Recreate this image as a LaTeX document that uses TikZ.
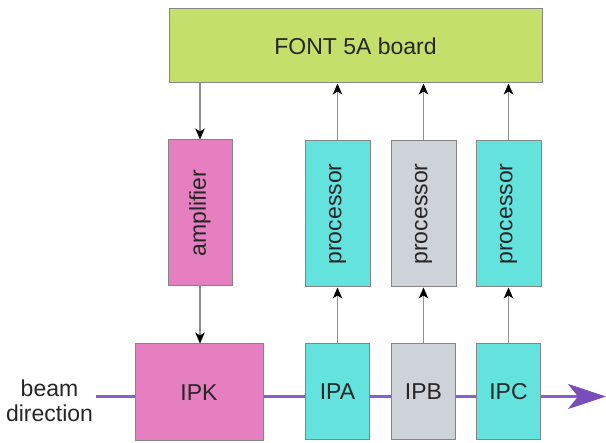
\documentclass[tikz,border=0pt]{standalone}
\usepackage{fontspec}
\setmainfont{Liberation Sans}
\usetikzlibrary{arrows.meta,backgrounds}
\definecolor{boardgreen}{HTML}{C5E06A}
\definecolor{amppink}{HTML}{E67FBF}
\definecolor{proccyan}{HTML}{63E2DE}
\definecolor{procgray}{HTML}{CED3D9}
\definecolor{beampurple}{HTML}{8A5FCB}
\definecolor{beamhead}{HTML}{7B4DB8}
\definecolor{boxline}{HTML}{858585}
\definecolor{wire}{HTML}{8F8F8F}
\tikzset{
  box/.style={draw=boxline, line width=1pt, rectangle, inner sep=0pt,
    font=\fontsize{23}{25}\selectfont, text=black!85},
  sig/.style={draw=wire, line width=1.3pt, -{Stealth[length=11pt,width=9.5pt,inset=3pt,black]}},
  beam/.style={draw=beampurple, line width=3pt, -{Stealth[length=38pt,width=25pt,inset=10pt,beamhead]}}
}
\begin{document}
\begin{tikzpicture}[x=1pt,y=-1pt]
\useasboundingbox (0,0) rectangle (606,443);
% top board
\node[box, fill=boardgreen, minimum width=373pt, minimum height=74pt] (board) at (355.5,46) {FONT 5A board};
% amplifier and processors
\node[box, fill=amppink, minimum width=64pt, minimum height=146pt] (amp) at (200,213) {};
\node[rotate=90, font=\fontsize{23}{25}\selectfont, text=black!85] (amptxt) at (amp.center) {amplifier};
\node[box, fill=proccyan, minimum width=65pt, minimum height=146pt] (procA) at (337.5,214) {};
\node[rotate=90, font=\fontsize{23}{25}\selectfont, text=black!85] (procAtxt) at (procA.center) {processor};
\node[box, fill=procgray, minimum width=65pt, minimum height=146pt] (procB) at (423.5,214) {};
\node[rotate=90, font=\fontsize{23}{25}\selectfont, text=black!85] (procBtxt) at (procB.center) {processor};
\node[box, fill=proccyan, minimum width=65pt, minimum height=146pt] (procC) at (508.5,214) {};
\node[rotate=90, font=\fontsize{23}{25}\selectfont, text=black!85] (procCtxt) at (procC.center) {processor};
% pickups
\node[box, fill=amppink, minimum width=128pt, minimum height=97pt] (IPK) at (199,392.5) {IPK};
\node[box, fill=proccyan, minimum width=64pt, minimum height=96pt] (IPA) at (337.5,392) {IPA};
\node[box, fill=procgray, minimum width=64pt, minimum height=96pt] (IPB) at (423.5,392) {IPB};
\node[box, fill=proccyan, minimum width=64pt, minimum height=96pt] (IPC) at (508.5,392) {IPC};
% beam direction label
\node[align=center, font=\fontsize{23}{25}\selectfont, text=black!85] (beamlbl) at (49.5,401) {beam\\direction};
% beam line
\coordinate (beamstart) at (96,396.5);
\coordinate (beamend) at (606,396.5);
\begin{scope}[on background layer]
\draw[beam] (beamstart) -- (beamend);
\end{scope}
% signal arrows
\draw[sig] (board.south -| amp.north) -- (amp.north);
\draw[sig] (amp.south) -- (amp.south |- IPK.north);
\draw[sig] (IPA.north) -- (procA.south);
\draw[sig] (IPB.north) -- (procB.south);
\draw[sig] (IPC.north) -- (procC.south);
\draw[sig] (procA.north) -- (procA.north |- board.south);
\draw[sig] (procB.north) -- (procB.north |- board.south);
\draw[sig] (procC.north) -- (procC.north |- board.south);
\end{tikzpicture}
\end{document}
